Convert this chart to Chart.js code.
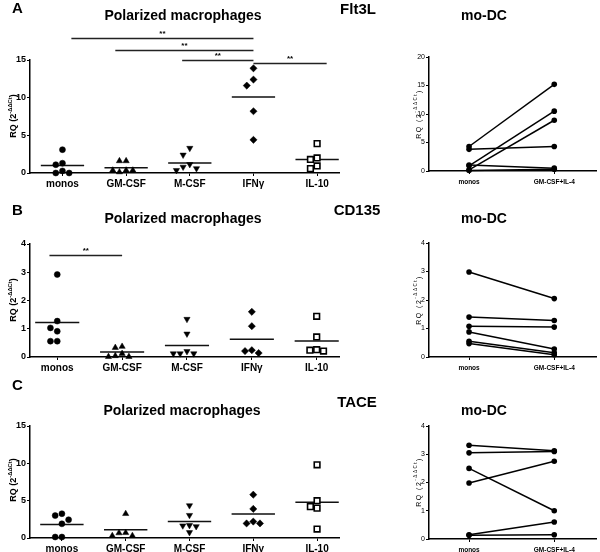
<!DOCTYPE html>
<html>
<head>
<meta charset="utf-8">
<script src="https://cdn.jsdelivr.net/npm/chart.js@4"></script>
<style>
    body { margin: 0; background: #fff; font-family: 'Liberation Sans', Arial, sans-serif; }
    #fig { position: relative; width: 600px; height: 552px; overflow: hidden; }
    canvas { position: absolute; }
    .t { position: absolute; font-weight: bold; color: #000; white-space: nowrap; line-height: 1; transform: translate(-50%, -50%); }
    .tag { position: absolute; font-weight: bold; color: #000; font-size: 15px; line-height: 1; }
    .ylab { position: absolute; white-space: nowrap; line-height: 1; color: #000; transform: translate(-50%, -50%) rotate(-90deg); }
    .ylab sup { font-size: 0.65em; }
</style>
</head>
<body>
<div id="fig">
    <canvas id="aLeft" width="345" height="192" style="left:0;top:0"></canvas>
    <canvas id="aRight" width="220" height="192" style="left:380px;top:0"></canvas>
    <canvas id="bLeft" width="345" height="192" style="left:0;top:185px"></canvas>
    <canvas id="bRight" width="220" height="192" style="left:380px;top:185px"></canvas>
    <canvas id="cLeft" width="345" height="182" style="left:0;top:370px"></canvas>
    <canvas id="cRight" width="220" height="182" style="left:380px;top:370px"></canvas>

    <div class="tag" style="left:12px;top:0">A</div>
    <div class="tag" style="left:12px;top:202px">B</div>
    <div class="tag" style="left:12px;top:377px">C</div>

    <div class="t" style="left:183px;top:15px;font-size:14px">Polarized macrophages</div>
    <div class="t" style="left:183px;top:218px;font-size:14px">Polarized macrophages</div>
    <div class="t" style="left:182px;top:410px;font-size:14px">Polarized macrophages</div>

    <div class="t" style="left:358px;top:8px;font-size:15px">Flt3L</div>
    <div class="t" style="left:357px;top:209px;font-size:15px">CD135</div>
    <div class="t" style="left:357px;top:401px;font-size:15px">TACE</div>

    <div class="t" style="left:484px;top:15px;font-size:14px">mo-DC</div>
    <div class="t" style="left:484px;top:218px;font-size:14px">mo-DC</div>
    <div class="t" style="left:484px;top:410px;font-size:14px">mo-DC</div>

    <div class="ylab" style="left:13px;top:116px;font-size:9px;font-weight:bold">RQ (2<sup>-ΔΔCt</sup>)</div>
    <div class="ylab" style="left:13px;top:300px;font-size:9px;font-weight:bold">RQ (2<sup>-ΔΔCt</sup>)</div>
    <div class="ylab" style="left:13px;top:480px;font-size:9px;font-weight:bold">RQ (2<sup>-ΔΔCt</sup>)</div>

    <div class="ylab" style="left:418px;top:114px;font-size:7px;letter-spacing:1.5px">RQ (2<sup>-ΔΔCt</sup>)</div>
    <div class="ylab" style="left:418px;top:300px;font-size:7px;letter-spacing:1.5px">RQ (2<sup>-ΔΔCt</sup>)</div>
    <div class="ylab" style="left:418px;top:482px;font-size:7px;letter-spacing:1.5px">RQ (2<sup>-ΔΔCt</sup>)</div>
</div>
<script>
var groups = ['monos', 'GM-CSF', 'M-CSF', 'IFNγ', 'IL-10'];
var dcGroups = ['monos', 'GM-CSF+IL-4'];

// Flt3L - polarized macrophages
var flt3lMonos = [3.1, 1.3, 1.1, 0.27, 0, 0];
var flt3lGm = [1.6, 1.6, 0.36, 0.13, 0.36, 0.36];
var flt3lM = [3.3, 2.4, 1.15, 0.8, 0.6, 0.36];
var flt3lIfn = [13.9, 12.4, 11.6, 8.2, 4.4];
var flt3lIl10 = [3.9, 2.0, 1.8, 0.93, 0.58];
var flt3lMeans = [1.0, 0.7, 1.33, 10.1, 1.8];
var flt3lSigFrom = [0.14, 0.83, 1.88, 3];
var flt3lSigTo = [3, 3, 3, 4.15];
var flt3lSigY = [17.9, 16.3, 15.0, 14.6];
// Flt3L - mo-DC (paired donors)
var flt3lDcMonos = [4.3, 3.8, 0.9, 0.2, 1.05, 0.1];
var flt3lDcCombo = [15.2, 4.3, 10.5, 8.9, 0.5, 0.3];

// CD135 - polarized macrophages
var cd135Monos = [2.92, 1.27, 1.03, 0.91, 0.56, 0.56];
var cd135Gm = [0.37, 0.33, 0.12, 0.04, 0.01, 0.01];
var cd135M = [1.34, 0.82, 0.2, 0.12, 0.12, 0.12];
var cd135Ifn = [1.6, 1.09, 0.24, 0.21, 0.14];
var cd135Il10 = [1.44, 0.71, 0.26, 0.24, 0.21];
var cd135Means = [1.22, 0.18, 0.41, 0.63, 0.57];
var cd135SigFrom = [-0.12];
var cd135SigTo = [1.0];
var cd135SigY = [3.6];
// CD135 - mo-DC
var cd135DcMonos = [2.98, 1.4, 1.08, 0.88, 0.55, 0.47];
var cd135DcCombo = [2.05, 1.28, 1.05, 0.28, 0.15, 0.08];

// TACE - polarized macrophages
var taceMonos = [3.25, 3.0, 2.45, 1.9, 0.13, 0.13];
var taceGm = [3.25, 0.7, 0.67, 0.3, 0.3];
var taceM = [4.35, 3.05, 1.7, 1.65, 1.55, 0.75];
var taceIfn = [5.8, 3.9, 2.2, 1.95, 1.95];
var taceIl10 = [9.8, 5.0, 4.2, 4.0, 1.2];
var taceMeans = [1.8, 1.1, 2.2, 3.2, 4.8];
// TACE - mo-DC
var taceDcMonos = [3.32, 3.05, 2.5, 1.98, 0.15, 0.13];
var taceDcCombo = [3.12, 3.1, 1.0, 2.75, 0.6, 0.15];

(function () {
    var FONT = "'Liberation Sans', Arial, sans-serif";
    var markers = [
        { style: 'circle', rot: 0, r: 3, fill: '#000' },
        { style: 'triangle', rot: 0, r: 3.6, fill: '#000' },
        { style: 'triangle', rot: 180, r: 3.6, fill: '#000' },
        { style: 'rectRot', rot: 0, r: 3.6, fill: '#000' },
        { style: 'rect', rot: 0, r: 4, fill: '#fff' }
    ];

    // spread points that would overlap, like a column scatter
    function swarm(values, center, gap, slot) {
        var placed = [];
        var order = [0, -1, 1, -2, 2, -3, 3];
        return values.map(function (v) {
            for (var j = 0; j < order.length; j++) {
                var k = order[j];
                var clash = placed.some(function (p) { return p.k === k && Math.abs(p.v - v) < gap; });
                if (!clash) {
                    placed.push({ k: k, v: v });
                    return { x: center + k * slot, y: v };
                }
            }
            return { x: center, y: v };
        });
    }

    var sigPlugin = {
        id: 'sigBars',
        afterDatasetsDraw: function (chart, args, opts) {
            if (!opts || !opts.from) return;
            var ctx = chart.ctx, xs = chart.scales.x, ys = chart.scales.y;
            ctx.save();
            ctx.strokeStyle = '#222';
            ctx.lineWidth = 1.3;
            ctx.fillStyle = '#000';
            ctx.font = 'bold 8px ' + FONT;
            ctx.textAlign = 'center';
            ctx.textBaseline = 'middle';
            for (var i = 0; i < opts.from.length; i++) {
                var x1 = xs.getPixelForValue(opts.from[i]);
                var x2 = xs.getPixelForValue(opts.to[i]);
                var y = Math.round(ys.getPixelForValue(opts.y[i])) + 0.5;
                ctx.beginPath();
                ctx.moveTo(x1, y);
                ctx.lineTo(x2, y);
                ctx.stroke();
                ctx.fillText('**', (x1 + x2) / 2, y - 5);
            }
            ctx.restore();
        }
    };

    function axes(cfg) {
        var H = cfg.height, a = cfg.area;
        return {
            x: {
                type: 'linear', min: cfg.xMin, max: cfg.xMax,
                afterBuildTicks: function (s) {
                    s.ticks = cfg.labels.map(function (l, i) { return { value: i }; });
                },
                afterFit: function (s) { s.height = H - a.b; },
                ticks: {
                    color: '#000', padding: cfg.xPad,
                    font: { family: FONT, size: cfg.xFont, weight: 'bold' },
                    maxRotation: 0, autoSkip: false,
                    callback: function (v) { return cfg.labels[Math.round(v)]; }
                },
                grid: { display: true, drawOnChartArea: false, drawTicks: true, tickLength: 3, color: '#000', lineWidth: 1 },
                border: { display: true, color: '#000', width: 1.5 }
            },
            y: {
                min: 0, max: cfg.yMax,
                afterBuildTicks: function (s) {
                    var t = [];
                    for (var v = 0; v <= cfg.yMax + 1e-9; v += cfg.yStep) t.push({ value: v });
                    s.ticks = t;
                },
                afterFit: function (s) { s.width = a.l; },
                ticks: {
                    color: '#000', padding: 1,
                    font: { family: FONT, size: cfg.yFont, weight: cfg.yWeight }
                },
                grid: { display: true, drawOnChartArea: false, drawTicks: true, tickLength: 3, color: '#000', lineWidth: 1 },
                border: { display: true, color: '#000', width: 1.5 }
            }
        };
    }

    function baseOptions(cfg) {
        return {
            responsive: false,
            animation: false,
            devicePixelRatio: 1,
            layout: { padding: { left: 0, top: cfg.area.t, right: cfg.width - cfg.area.r, bottom: 0 } },
            plugins: {
                legend: { display: false },
                tooltip: { enabled: false },
                sigBars: cfg.sig || {}
            },
            scales: axes(cfg)
        };
    }

    function macroPanel(id, lists, means, cfg) {
        var plotH = cfg.area.b - cfg.area.t;
        var gap = cfg.yMax * 7 / plotH;
        var datasets = lists.map(function (vals, i) {
            var m = markers[i];
            return {
                data: swarm(vals, i, gap, 0.105),
                pointStyle: m.style,
                rotation: m.rot,
                pointRadius: m.r,
                backgroundColor: m.fill,
                borderColor: '#000',
                borderWidth: i === 4 ? 1.6 : 0.5,
                clip: false
            };
        });
        var meanPts = [];
        means.forEach(function (m, i) {
            meanPts.push({ x: i - 0.34, y: m }, { x: i + 0.34, y: m }, { x: i, y: null });
        });
        datasets.push({
            data: meanPts, showLine: true, spanGaps: false, pointRadius: 0,
            borderColor: '#111', borderWidth: 1.5, clip: false
        });
        cfg.labels = groups;
        cfg.xFont = 10; cfg.yFont = 9; cfg.yWeight = 'bold'; cfg.xPad = 2;
        new Chart(document.getElementById(id), {
            type: 'scatter',
            data: { datasets: datasets },
            options: baseOptions(cfg),
            plugins: [sigPlugin]
        });
    }

    function dcPanel(id, before, after, cfg) {
        var datasets = before.map(function (v, i) {
            return {
                data: [{ x: 0, y: v }, { x: 1, y: after[i] }],
                showLine: true,
                borderColor: '#000', borderWidth: 1.5,
                pointStyle: 'circle', pointRadius: 2.8,
                backgroundColor: '#000', pointBorderWidth: 0,
                clip: false
            };
        });
        cfg.labels = dcGroups;
        cfg.xMin = -0.47; cfg.xMax = 1.49;
        cfg.xFont = 6.5; cfg.yFont = 7; cfg.yWeight = 'normal'; cfg.xPad = 4;
        new Chart(document.getElementById(id), {
            type: 'scatter',
            data: { datasets: datasets },
            options: baseOptions(cfg)
        });
    }

    macroPanel('aLeft', [flt3lMonos, flt3lGm, flt3lM, flt3lIfn, flt3lIl10], flt3lMeans, {
        width: 345, height: 192, area: { l: 30, t: 60, r: 343, b: 173 },
        xMin: -0.51, xMax: 4.35, yMax: 15, yStep: 5,
        sig: { from: flt3lSigFrom, to: flt3lSigTo, y: flt3lSigY }
    });
    macroPanel('bLeft', [cd135Monos, cd135Gm, cd135M, cd135Ifn, cd135Il10], cd135Means, {
        width: 345, height: 192, area: { l: 30, t: 59, r: 343, b: 172 },
        xMin: -0.42, xMax: 4.35, yMax: 4, yStep: 1,
        sig: { from: cd135SigFrom, to: cd135SigTo, y: cd135SigY }
    });
    macroPanel('cLeft', [taceMonos, taceGm, taceM, taceIfn, taceIl10], taceMeans, {
        width: 345, height: 182, area: { l: 30, t: 56, r: 343, b: 168 },
        xMin: -0.5, xMax: 4.35, yMax: 15, yStep: 5
    });

    dcPanel('aRight', flt3lDcMonos, flt3lDcCombo, {
        width: 220, height: 192, area: { l: 49, t: 57, r: 220, b: 171 }, yMax: 20, yStep: 5
    });
    dcPanel('bRight', cd135DcMonos, cd135DcCombo, {
        width: 220, height: 192, area: { l: 49, t: 58, r: 220, b: 172 }, yMax: 4, yStep: 1
    });
    dcPanel('cRight', taceDcMonos, taceDcCombo, {
        width: 220, height: 182, area: { l: 49, t: 56, r: 220, b: 169 }, yMax: 4, yStep: 1
    });
})();
</script>
</body>
</html>
